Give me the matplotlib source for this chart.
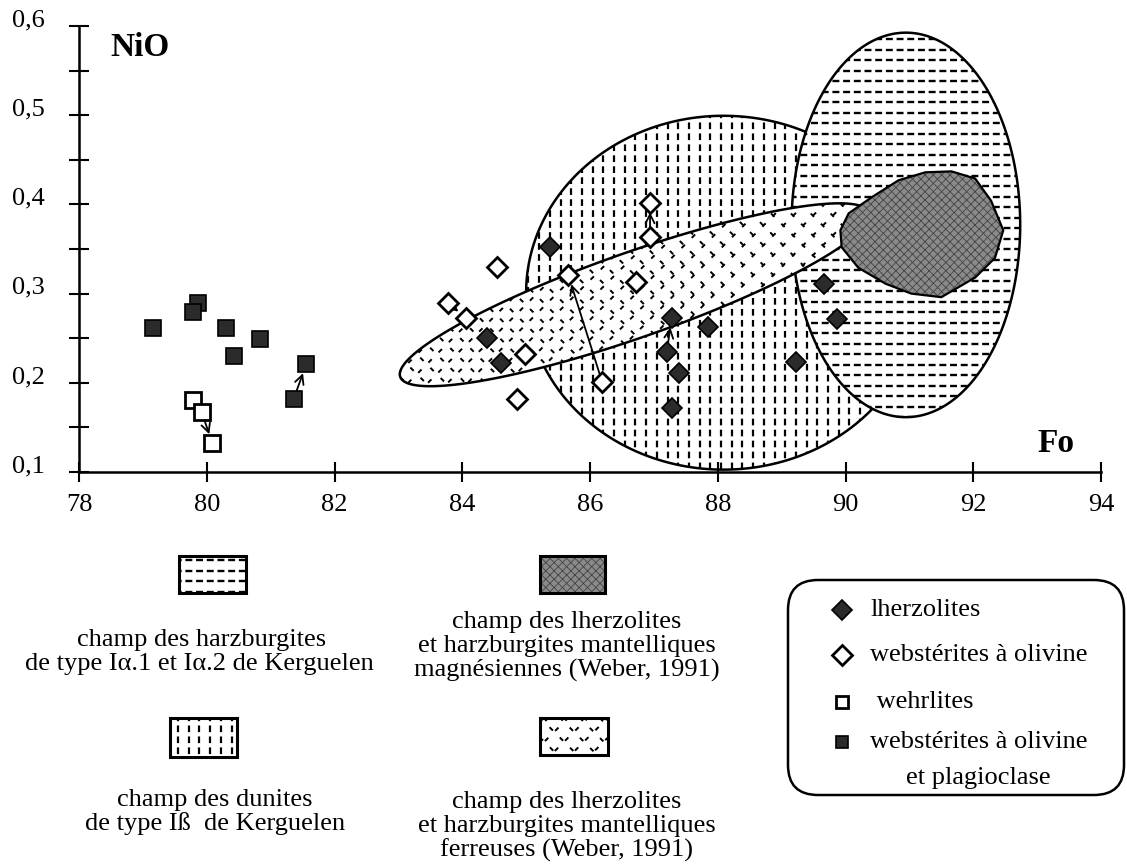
import numpy as np
import matplotlib
matplotlib.use("Agg")
import matplotlib.pyplot as plt
from matplotlib.patches import Polygon, Rectangle, FancyBboxPatch
from matplotlib.collections import LineCollection
from matplotlib.lines import Line2D
from matplotlib.transforms import IdentityTransform, ScaledTranslation

plt.rcParams['font.family'] = ['Liberation Serif', 'DejaVu Serif']
plt.rcParams['lines.scale_dashes'] = False
plt.rcParams['hatch.linewidth'] = 0.6

W, H = 1127, 865

# --- data (Fo, NiO) ---
lherz_fo = [85.38, 84.38, 84.61, 87.28, 87.20, 87.39, 87.28, 87.84, 89.66, 89.86, 89.22]
lherz_nio = [0.352, 0.250, 0.222, 0.273, 0.234, 0.211, 0.172, 0.262, 0.311, 0.272, 0.223]
webst_fo = [84.55, 83.78, 84.06, 85.66, 86.72, 84.98, 84.86, 86.19, 86.94, 86.94]
webst_nio = [0.330, 0.289, 0.273, 0.321, 0.313, 0.232, 0.182, 0.201, 0.402, 0.363]
wehr_fo = [79.78, 79.92, 80.09]
wehr_nio = [0.181, 0.167, 0.132]
plag_fo = [79.16, 79.86, 79.78, 80.30, 80.84, 80.42, 81.56, 81.36]
plag_nio = [0.261, 0.289, 0.279, 0.261, 0.249, 0.230, 0.221, 0.182]

# evolution arrows: from -> to
arrow_from_fo = [79.92, 81.36, 83.78, 86.19, 86.94, 87.20]
arrow_from_nio = [0.167, 0.182, 0.289, 0.201, 0.363, 0.234]
arrow_to_fo = [80.09, 81.56, 84.06, 85.66, 86.94, 87.28]
arrow_to_nio = [0.132, 0.221, 0.273, 0.321, 0.402, 0.273]

# fields: centre (Fo, NiO), semi-axes in Fo-equivalent units, tilt (deg)
dunite_field = (88.09, 0.301, 3.09, 2.77, 0.0)
harz_field = (90.945, 0.377, 1.79, 3.01, 0.0)
ferr_field = (86.70, 0.2987, 3.89, 0.667, 19.3)
magn_fo = [89.92, 90.05, 90.41, 90.83, 91.25, 91.66, 92.03, 92.28, 92.47,
           92.34, 92.03, 91.50, 91.03, 90.63, 90.20, 89.94]
magn_nio = [0.371, 0.390, 0.408, 0.427, 0.436, 0.437, 0.429, 0.404, 0.371,
            0.340, 0.318, 0.296, 0.300, 0.311, 0.329, 0.352]

x_ticks = [78, 80, 82, 84, 86, 88, 90, 92, 94]
y_ticks = [0.1, 0.2, 0.3, 0.4, 0.5, 0.6]
y_minor = [0.15, 0.25, 0.35, 0.45, 0.55]
y_labels = ["0,1", "0,2", "0,3", "0,4", "0,5", "0,6"]

PATTERNS = {
    "dunite": [(90, 10.7, (4.8, 3.1), 1.6)],
    "harz": [(0, 10.5, (5.0, 2.7), 1.7)],
    "ferr": [(45, 14, (3.4, 7.0), 1.4), (-45, 14, (3.4, 7.0), 1.4)],
}


def dash_lines(bb, angle, step):
    th = np.radians(angle)
    d = np.array([np.cos(th), np.sin(th)])
    n = np.array([-np.sin(th), np.cos(th)])
    c0 = np.array([(bb.x0 + bb.x1) / 2, (bb.y0 + bb.y1) / 2])
    r = np.hypot(bb.width, bb.height) / 2 + step
    segs = []
    for s in np.arange(-r, r + step, step):
        c = c0 + s * n
        segs.append([c - r * d, c + r * d])
    return segs


def add_pattern(container, patch, kind, z):
    bb = patch.get_window_extent()
    for angle, step, dash, lw in PATTERNS[kind]:
        lc = LineCollection(dash_lines(bb, angle, step), transform=IdentityTransform(),
                            colors="black", linewidths=lw, linestyles=[(0, dash)], zorder=z)
        lc.set_clip_path(patch)
        container.add_artist(lc)


fig = plt.figure(figsize=(W / 100, H / 100), dpi=100, facecolor="white")
ax = fig.add_axes([79 / W, 1 - 472 / H, (1101 - 79) / W, (472 - 26) / H])
ax.set_xlim(78, 94)
ax.set_ylim(0.1, 0.6)

p0 = ax.transData.transform((78, 0.1))
p1 = ax.transData.transform((94, 0.6))
ratio = ((p1[0] - p0[0]) / 16) / ((p1[1] - p0[1]) / 0.5)


def ellipse_outline(field):
    cx, cy, a, b, angle = field
    t = np.linspace(0, 2 * np.pi, 240)
    th = np.radians(angle)
    u, v = a * np.cos(t), b * np.sin(t)
    x = cx + u * np.cos(th) - v * np.sin(th)
    y = cy + (u * np.sin(th) + v * np.cos(th)) * ratio
    return np.column_stack([x, y])


for z, (field, kind) in enumerate([(dunite_field, "dunite"), (harz_field, "harz"), (ferr_field, "ferr")]):
    patch = Polygon(ellipse_outline(field), closed=True, facecolor="white",
                    edgecolor="black", lw=1.8, zorder=1 + z)
    ax.add_patch(patch)
    add_pattern(ax, patch, kind, 1 + z + 0.1)

magn_xy = np.column_stack([magn_fo, magn_nio])
ax.add_patch(Polygon(magn_xy, closed=True, facecolor="#8a8a8a", edgecolor="#444444",
                     lw=0, hatch="xxxx", zorder=4))
ax.add_patch(Polygon(magn_xy, closed=True, facecolor="none", edgecolor="black", lw=1.6, zorder=4.1))

for fx, fy, tx, ty in zip(arrow_from_fo, arrow_from_nio, arrow_to_fo, arrow_to_nio):
    ax.annotate("", xy=(tx, ty), xytext=(fx, fy), zorder=5,
                arrowprops=dict(arrowstyle="->", lw=1.3, color="black",
                                shrinkA=5, shrinkB=7, mutation_scale=16))

dark = "#2b2b2b"
ax.plot(plag_fo, plag_nio, "s", ms=11, mfc=dark, mec="black", mew=1.2, zorder=6)
ax.plot(wehr_fo, wehr_nio, "s", ms=11, mfc="white", mec="black", mew=2.0, zorder=6)
ax.plot(lherz_fo, lherz_nio, "D", ms=10, mfc=dark, mec="black", mew=1.2, zorder=6)
ax.plot(webst_fo, webst_nio, "D", ms=10, mfc="white", mec="black", mew=2.0, zorder=6)

for s in ["top", "right"]:
    ax.spines[s].set_visible(False)
for s in ["left", "bottom"]:
    ax.spines[s].set_linewidth(1.8)
ax.set_xticks(x_ticks)
ax.set_yticks(y_ticks, labels=y_labels)
ax.set_yticks(y_minor, minor=True)
ax.tick_params(which="both", direction="inout", length=14, width=1.5)
ax.tick_params(axis="x", labelsize=19, pad=9)
ax.tick_params(axis="y", labelsize=19, pad=17.5)
for lab in ax.get_yticklabels():
    lab.set_transform(lab.get_transform() + ScaledTranslation(0, 6 / 72, fig.dpi_scale_trans))

fig.text(110 / W, 1 - 47 / H, "NiO", fontsize=24, fontweight="bold", va="center", ha="left")
fig.text(1056 / W, 1 - 444 / H, "Fo", fontsize=24, fontweight="bold", va="center", ha="center")

# --- lower key: field swatches ---
swatches = [("harz", 179, 556, 246, 593), ("dunite", 170, 718, 237, 757),
            ("magn", 540, 556, 605, 593), ("ferr", 540, 718, 608, 755)]
for kind, x0, y0, x1, y1 in swatches:
    if kind == "magn":
        fig.add_artist(Rectangle((x0, H - y1), x1 - x0, y1 - y0, transform=IdentityTransform(),
                                 facecolor="#8a8a8a", edgecolor="#444444", lw=0, hatch="xxxx"))
        fig.add_artist(Rectangle((x0, H - y1), x1 - x0, y1 - y0, transform=IdentityTransform(),
                                 facecolor="none", edgecolor="black", lw=2.2))
    else:
        r = Rectangle((x0, H - y1), x1 - x0, y1 - y0, transform=IdentityTransform(),
                      facecolor="white", edgecolor="black", lw=2.2)
        fig.add_artist(r)
        add_pattern(fig, r, kind, 2)

key_texts = [("champ des harzburgites", 202, 640),
             ("de type I\u03b1.1 et I\u03b1.2 de Kerguelen", 199, 664),
             ("champ des dunites", 215, 800),
             ("de type I\u00df  de Kerguelen", 215, 824),
             ("champ des lherzolites", 567, 622),
             ("et harzburgites mantelliques", 567, 646),
             ("magn\u00e9siennes (Weber, 1991)", 567, 670),
             ("champ des lherzolites", 567, 802),
             ("et harzburgites mantelliques", 567, 826),
             ("ferreuses (Weber, 1991)", 567, 850)]
for s, x, y in key_texts:
    fig.text(x / W, 1 - y / H, s, fontsize=19, ha="center", va="center")

# --- symbol legend box ---
fig.add_artist(FancyBboxPatch((788, H - 795), 1124 - 788, 795 - 580,
                              boxstyle="round,pad=0,rounding_size=30",
                              transform=IdentityTransform(), facecolor="white",
                              edgecolor="black", lw=1.8))
legend_rows = [("D", dark, 1.2, "lherzolites", 610),
               ("D", "white", 2.0, "webst\u00e9rites \u00e0 olivine", 655),
               ("s", "white", 2.0, " wehrlites", 702),
               ("s", dark, 1.2, "webst\u00e9rites \u00e0 olivine", 742)]
for mk, fc, mew, label, y in legend_rows:
    fig.add_artist(Line2D([842], [H - y], transform=IdentityTransform(), marker=mk,
                          ms=10 if mk == "D" else 9, mfc=fc, mec="black", mew=mew, ls="none"))
    fig.text(870 / W, 1 - y / H, label, fontsize=19, ha="left", va="center")
fig.text(978 / W, 1 - 778 / H, "et plagioclase", fontsize=19, ha="center", va="center")

fig.savefig("out.png", dpi=100, facecolor="white")
